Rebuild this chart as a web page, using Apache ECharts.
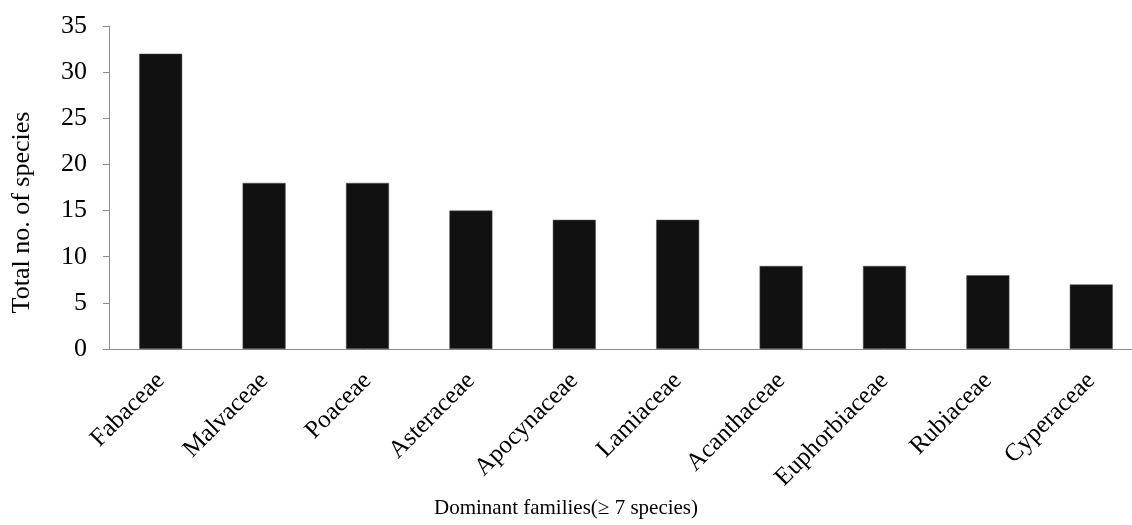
<!DOCTYPE html>
<html><head><meta charset="utf-8">
<script src="https://cdn.jsdelivr.net/npm/echarts@6/dist/echarts.min.js"></script>
<style>html,body{margin:0;padding:0;background:#fff;overflow:hidden}#c{width:1143px;height:525px}</style>
</head><body><div id="c"></div>
<script>
const families = ['Fabaceae','Malvaceae','Poaceae','Asteraceae','Apocynaceae','Lamiaceae','Acanthaceae','Euphorbiaceae','Rubiaceae','Cyperaceae'];
const species = [32, 18, 18, 15, 14, 14, 9, 9, 8, 7];
const yAxisTitle = 'Total no. of species';
const xAxisTitle = 'Dominant families(≥ 7 species)';
const font = '"Liberation Serif", "Times New Roman", serif';
const chart = echarts.init(document.getElementById('c'));
chart.setOption({
  animation: false,
  grid: { left: 109, right: 0, top: 26, bottom: 176, containLabel: false },
  xAxis: {
    type: 'category', data: families,
    name: xAxisTitle, nameLocation: 'middle', nameGap: 146,
    nameTextStyle: { fontFamily: font, fontSize: 21, color: '#000', padding: [0, 120, 0, 0] },
    axisLine: { lineStyle: { color: '#8c8c8c', width: 1 } },
    axisTick: { alignWithLabel: false, length: 6, lineStyle: { color: '#8c8c8c' } },
    axisLabel: { rotate: 45, margin: 28, fontFamily: font, fontSize: 25, color: '#000', interval: 0 }
  },
  yAxis: {
    type: 'value', min: 0, max: 35, interval: 5,
    name: yAxisTitle, nameLocation: 'middle', nameGap: 74,
    nameTextStyle: { fontFamily: font, fontSize: 26, color: '#000', padding: [0, 50, 0, 0] },
    axisLine: { show: true, lineStyle: { color: '#8c8c8c', width: 1 } },
    axisTick: { show: true, length: 6, lineStyle: { color: '#8c8c8c' } },
    axisLabel: { fontFamily: font, fontSize: 26, color: '#000', margin: 22 },
    splitLine: { show: false }
  },
  series: [{
    type: 'bar', data: species, barWidth: 43,
    itemStyle: { color: '#111111', borderColor: '#555', borderWidth: 0.5 }
  }]
});
</script></body></html>
